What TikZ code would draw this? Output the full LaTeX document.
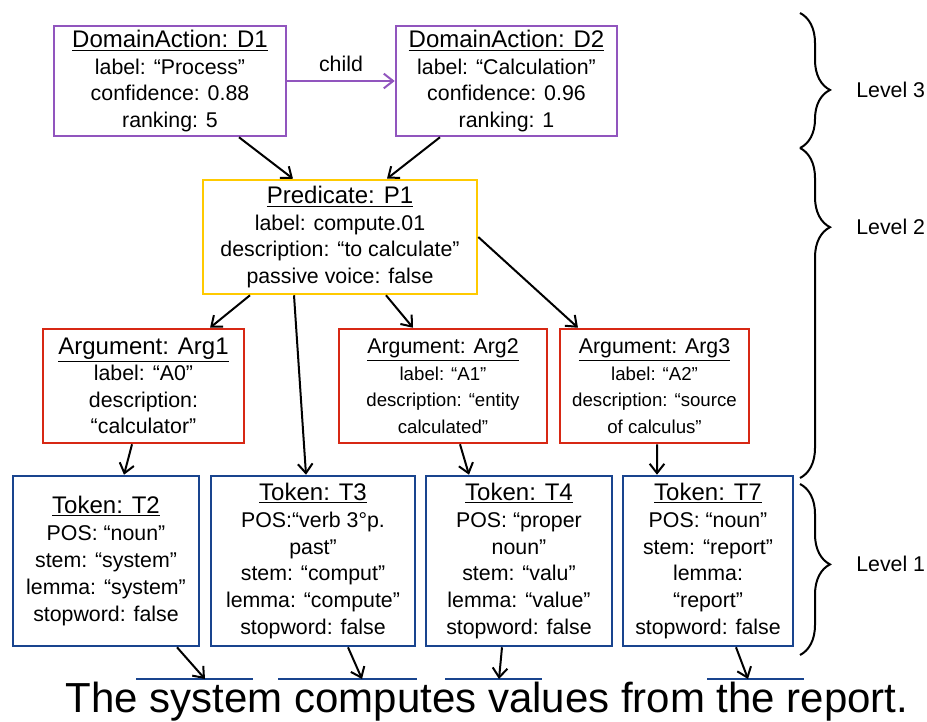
\documentclass[tikz,border=0pt]{standalone}
\usepackage{fontspec}
\setmainfont{Liberation Sans}
\usetikzlibrary{arrows.meta,decorations.pathreplacing}
\definecolor{dapurple}{RGB}{145,85,190}
\definecolor{predyellow}{RGB}{255,202,0}
\definecolor{argred}{RGB}{215,40,20}
\definecolor{tokblue}{RGB}{25,68,142}
\newcommand{\ttl}[1]{{\fontsize{18}{20}\selectfont\underline{#1}}}
\newcommand{\ttls}[1]{{\fontsize{16}{18}\selectfont\underline{#1}}}
\begin{document}
\begin{tikzpicture}[x=0.75pt,y=-0.75pt,
  sz/.style 2 args={minimum width=#1*0.75pt, minimum height=#2*0.75pt},
  boxbase/.style={draw, line width=1.9pt, inner sep=0pt, align=center,
    font=\fontsize{16}{19.9}\selectfont, text=black},
  dabox/.style={boxbase, draw=dapurple},
  predbox/.style={boxbase, draw=predyellow},
  argbox/.style={boxbase, draw=argred},
  smallargbox/.style={argbox, font=\fontsize{14}{19.9}\selectfont},
  tokbox/.style={boxbase, draw=tokblue, font=\fontsize{16}{20.2}\selectfont},
  conn/.style={line width=1.5pt, -{Straight Barb[length=7pt,width=11pt]}},
  wordline/.style={draw=tokblue, line width=1.6pt},
  lvlbrace/.style={line width=1.5pt, decorate,
    decoration={brace, amplitude=22.5pt, aspect=#1}},
  lvllabel/.style={anchor=west, font=\fontsize{16}{19}\selectfont, inner sep=0pt}]
\useasboundingbox (0,0) rectangle (927,721);

% Level 3
\node[dabox, sz={232}{110}] (d1) at (170,81)
  {\ttl{DomainAction: D1}\\ label: “Process”\\ confidence: 0.88\\ ranking: 5};
\node[dabox, sz={221}{110}] (d2) at (506.5,81)
  {\ttl{DomainAction: D2}\\ label: “Calculation”\\ confidence: 0.96\\ ranking: 1};

% Level 2
\node[predbox, sz={274}{114}] (p1) at (340,237)
  {\ttl{Predicate: P1}\\ label: compute.01\\ description: “to calculate”\\ passive voice: false};
\node[argbox, sz={201}{114}] (a1) at (143.5,386)
  {\ttl{Argument: Arg1}\\ label: “A0”\\ description:\\ “calculator”};
\node[smallargbox, sz={208}{114}] (a2) at (443,386)
  {\ttls{Argument: Arg2}\\ label: “A1”\\ description: “entity\\ calculated”};
\node[smallargbox, sz={189}{114}] (a3) at (654.5,386)
  {\ttls{Argument: Arg3}\\ label: “A2”\\ description: “source\\ of calculus”};

% Level 1
\node[tokbox, sz={186}{170}] (t2) at (106,561)
  {\ttl{Token: T2}\\ POS: “noun”\\ stem: “system”\\ lemma: “system”\\ stopword: false};
\node[tokbox, sz={204}{170}] (t3) at (313,561)
  {\ttl{Token: T3}\\ POS:“verb 3°p.\\ past”\\ stem: “comput”\\ lemma: “compute”\\ stopword: false};
\node[tokbox, sz={186}{170}] (t4) at (519,561)
  {\ttl{Token: T4}\\ POS: “proper\\ noun”\\ stem: “valu”\\ lemma: “value”\\ stopword: false};
\node[tokbox, sz={170}{170}] (t7) at (708,561)
  {\ttl{Token: T7}\\ POS: “noun”\\ stem: “report”\\ lemma:\\ “report”\\ stopword: false};

% sentence and word lines
\node[anchor=base, inner sep=0pt, font=\fontsize{31.5}{38}\selectfont] (sent) at (487,712)
  {The system computes values from the report.};
\coordinate (w1) at (205,679);
\coordinate (w2) at (362,679);
\coordinate (w3) at (499,679);
\coordinate (w4) at (748,679);
\draw[wordline] (136,679) -- (253,679);
\draw[wordline] (278,679) -- (417,679);
\draw[wordline] (445,679) -- (542,679);
\draw[wordline] (707,679) -- (804,679);

% connectors
\draw[conn, draw=dapurple] (d1.east) -- node[above=3pt, font=\fontsize{16}{19}\selectfont, text=black] {child} (d2.west);
\draw[conn] ([xshift=51.75pt]d1.south) -- ([xshift=-35.25pt]p1.north);
\draw[conn] ([xshift=-49.9pt]d2.south) -- ([xshift=35.25pt]p1.north);
\draw[conn] ([xshift=-67.5pt]p1.south) -- ([xshift=49.9pt]a1.north);
\draw[conn] ([xshift=-34.5pt]p1.south) -- ([xshift=-5.25pt]t3.north);
\draw[conn] ([xshift=34.5pt]p1.south) -- ([xshift=-22.5pt]a2.north);
\draw[conn] (p1.east) -- ([xshift=-57.4pt]a3.north);
\draw[conn] ([xshift=-8.6pt]a1.south) -- ([xshift=13.5pt]t2.north);
\draw[conn] ([xshift=12.75pt]a2.south) -- ([xshift=-37.5pt]t4.north);
\draw[conn] ([xshift=1.9pt]a3.south) -- ([xshift=-38.25pt]t7.north);
\draw[conn] ([xshift=53.25pt]t2.south) -- (w1);
\draw[conn] ([xshift=26.25pt]t3.south) -- (w2);
\draw[conn] ([xshift=-12.75pt]t4.south) -- (w3);
\draw[conn] ([xshift=21pt]t7.south) -- (w4);

% level braces
\draw[lvlbrace=0.57] (800,13) -- (800,148);
\draw[lvlbrace=0.24] (800,148) -- (800,478);
\draw[lvlbrace=0.47] (800,484) -- (800,655);
\node[lvllabel] (l3) at (856,90) {Level 3};
\node[lvllabel] (l2) at (856,227) {Level 2};
\node[lvllabel] (l1) at (856,564) {Level 1};
\end{tikzpicture}
\end{document}
